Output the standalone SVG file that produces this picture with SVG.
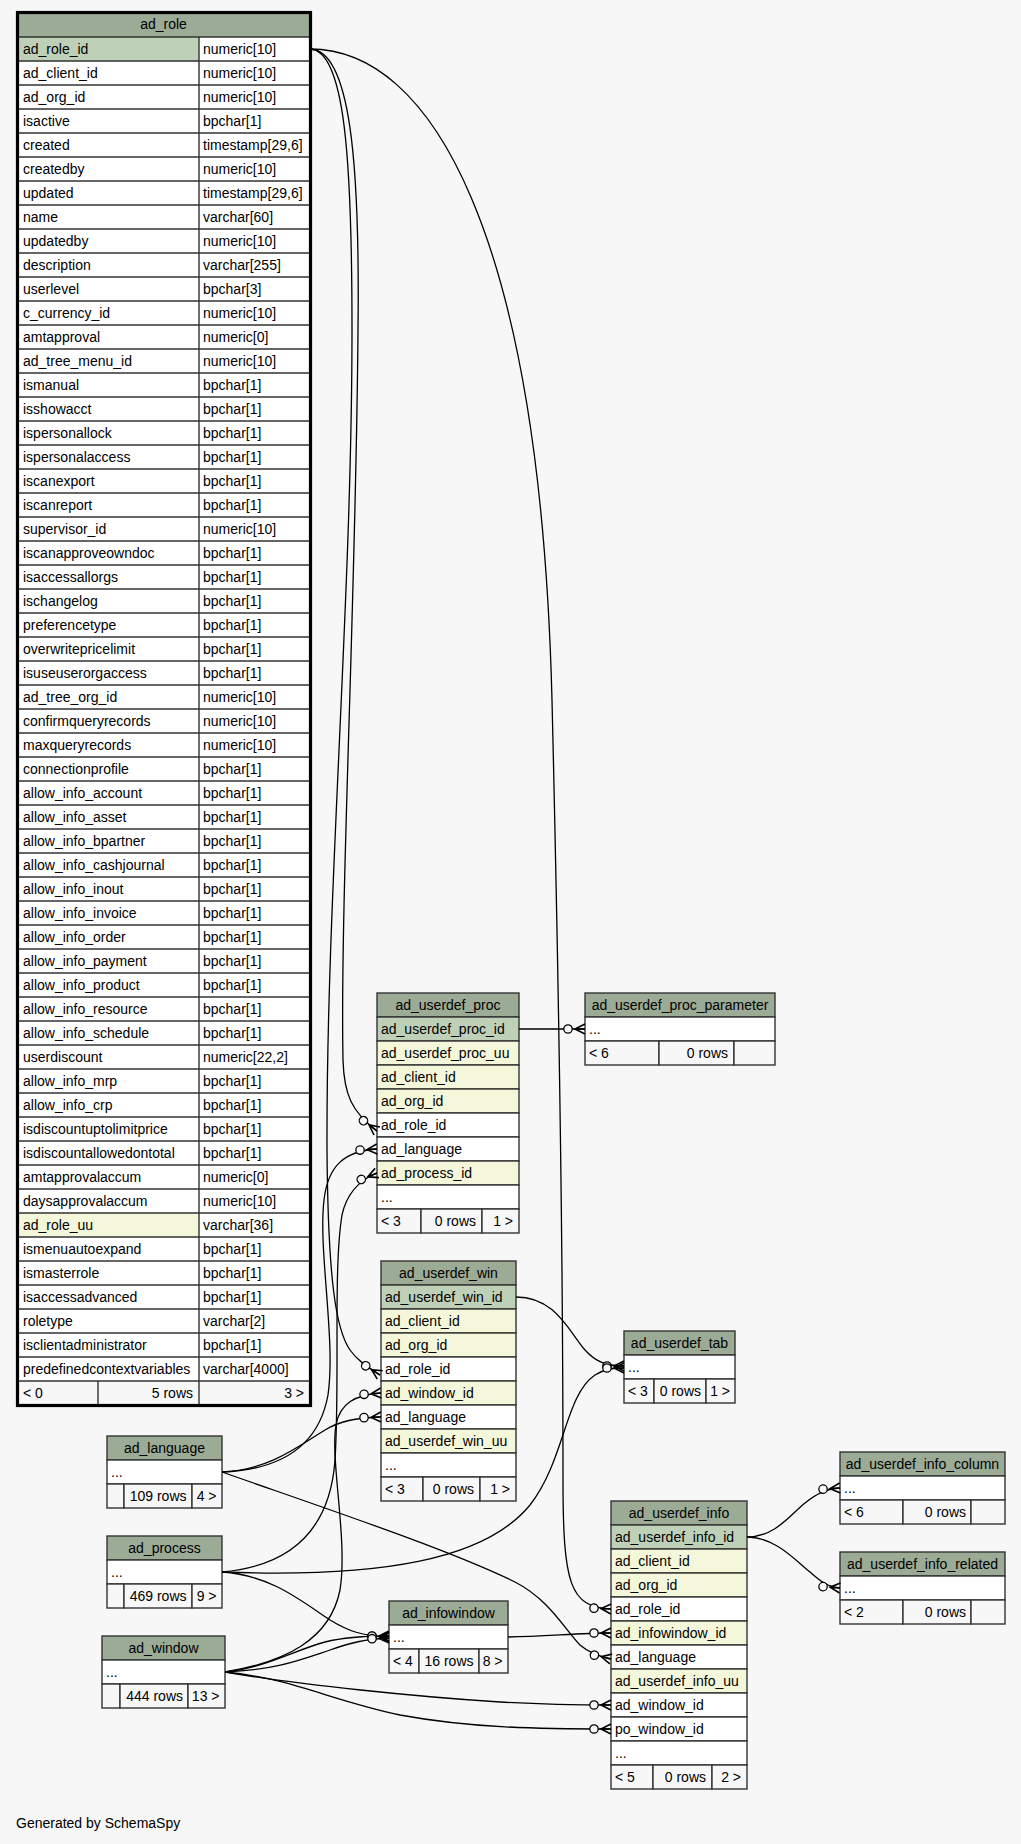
<svg xmlns="http://www.w3.org/2000/svg" width="1021" height="1844" viewBox="0 0 1021 1844">
<style>
text{font-family:"Liberation Sans",Arial,Helvetica,sans-serif;font-size:14px;fill:#000}
.m{text-anchor:middle}
.r{text-anchor:end}
.hd{fill:#9bab96;stroke:#333;stroke-width:1.4}
.pk{fill:#bed1b8;stroke:#333;stroke-width:1.4}
.ix{fill:#f4f7da;stroke:#333;stroke-width:1.4}
.w{fill:#fff;stroke:#333;stroke-width:1.4}
.ft{fill:#f7f7f7;stroke:#333;stroke-width:1.4}
.ln{fill:none;stroke:#333;stroke-width:1.4}
.e{fill:none;stroke:#000;stroke-width:1.3}
.ec{fill:none;stroke:#000;stroke-width:1.3;marker-end:url(#crow)}
</style>
<defs>
<marker id="crow" markerUnits="userSpaceOnUse" viewBox="0 0 24 16" markerWidth="24" markerHeight="16" refX="20" refY="8" orient="auto" overflow="visible">
<circle cx="3" cy="8" r="4.2" fill="#f7f7f7" stroke="#000" stroke-width="1.3"/>
<path d="M20,3 L10,8 L20,13 M10,8 H20" fill="none" stroke="#000" stroke-width="1.6"/>
</marker>
</defs>
<rect x="0" y="0" width="1021" height="1844" fill="#f7f7f7"/>

<g id="ad_role">
<rect x="18" y="12" width="292" height="25" fill="#9bab96"/>
<rect x="18" y="37" width="292" height="1344" fill="#fff"/>
<rect x="18" y="37" width="181" height="24" fill="#bed1b8"/>
<rect x="18" y="1213" width="181" height="24" fill="#f4f7da"/>
<rect x="18" y="1381" width="292" height="24" fill="#f7f7f7"/>
<path class="ln" d="M18,37H310M18,61H310M18,85H310M18,109H310M18,133H310M18,157H310M18,181H310M18,205H310M18,229H310M18,253H310M18,277H310M18,301H310M18,325H310M18,349H310M18,373H310M18,397H310M18,421H310M18,445H310M18,469H310M18,493H310M18,517H310M18,541H310M18,565H310M18,589H310M18,613H310M18,637H310M18,661H310M18,685H310M18,709H310M18,733H310M18,757H310M18,781H310M18,805H310M18,829H310M18,853H310M18,877H310M18,901H310M18,925H310M18,949H310M18,973H310M18,997H310M18,1021H310M18,1045H310M18,1069H310M18,1093H310M18,1117H310M18,1141H310M18,1165H310M18,1189H310M18,1213H310M18,1237H310M18,1261H310M18,1285H310M18,1309H310M18,1333H310M18,1357H310M18,1381H310M199,37V1405M98,1381V1405"/>
<rect x="17.5" y="12.5" width="293" height="1393" fill="none" stroke="#000" stroke-width="3.2"/>
<text class="m" x="163.5" y="29">ad_role</text>
<text x="23" y="53.5">ad_role_id</text><text x="203" y="53.5">numeric[10]</text>
<text x="23" y="77.5">ad_client_id</text><text x="203" y="77.5">numeric[10]</text>
<text x="23" y="101.5">ad_org_id</text><text x="203" y="101.5">numeric[10]</text>
<text x="23" y="125.5">isactive</text><text x="203" y="125.5">bpchar[1]</text>
<text x="23" y="149.5">created</text><text x="203" y="149.5">timestamp[29,6]</text>
<text x="23" y="173.5">createdby</text><text x="203" y="173.5">numeric[10]</text>
<text x="23" y="197.5">updated</text><text x="203" y="197.5">timestamp[29,6]</text>
<text x="23" y="221.5">name</text><text x="203" y="221.5">varchar[60]</text>
<text x="23" y="245.5">updatedby</text><text x="203" y="245.5">numeric[10]</text>
<text x="23" y="269.5">description</text><text x="203" y="269.5">varchar[255]</text>
<text x="23" y="293.5">userlevel</text><text x="203" y="293.5">bpchar[3]</text>
<text x="23" y="317.5">c_currency_id</text><text x="203" y="317.5">numeric[10]</text>
<text x="23" y="341.5">amtapproval</text><text x="203" y="341.5">numeric[0]</text>
<text x="23" y="365.5">ad_tree_menu_id</text><text x="203" y="365.5">numeric[10]</text>
<text x="23" y="389.5">ismanual</text><text x="203" y="389.5">bpchar[1]</text>
<text x="23" y="413.5">isshowacct</text><text x="203" y="413.5">bpchar[1]</text>
<text x="23" y="437.5">ispersonallock</text><text x="203" y="437.5">bpchar[1]</text>
<text x="23" y="461.5">ispersonalaccess</text><text x="203" y="461.5">bpchar[1]</text>
<text x="23" y="485.5">iscanexport</text><text x="203" y="485.5">bpchar[1]</text>
<text x="23" y="509.5">iscanreport</text><text x="203" y="509.5">bpchar[1]</text>
<text x="23" y="533.5">supervisor_id</text><text x="203" y="533.5">numeric[10]</text>
<text x="23" y="557.5">iscanapproveowndoc</text><text x="203" y="557.5">bpchar[1]</text>
<text x="23" y="581.5">isaccessallorgs</text><text x="203" y="581.5">bpchar[1]</text>
<text x="23" y="605.5">ischangelog</text><text x="203" y="605.5">bpchar[1]</text>
<text x="23" y="629.5">preferencetype</text><text x="203" y="629.5">bpchar[1]</text>
<text x="23" y="653.5">overwritepricelimit</text><text x="203" y="653.5">bpchar[1]</text>
<text x="23" y="677.5">isuseuserorgaccess</text><text x="203" y="677.5">bpchar[1]</text>
<text x="23" y="701.5">ad_tree_org_id</text><text x="203" y="701.5">numeric[10]</text>
<text x="23" y="725.5">confirmqueryrecords</text><text x="203" y="725.5">numeric[10]</text>
<text x="23" y="749.5">maxqueryrecords</text><text x="203" y="749.5">numeric[10]</text>
<text x="23" y="773.5">connectionprofile</text><text x="203" y="773.5">bpchar[1]</text>
<text x="23" y="797.5">allow_info_account</text><text x="203" y="797.5">bpchar[1]</text>
<text x="23" y="821.5">allow_info_asset</text><text x="203" y="821.5">bpchar[1]</text>
<text x="23" y="845.5">allow_info_bpartner</text><text x="203" y="845.5">bpchar[1]</text>
<text x="23" y="869.5">allow_info_cashjournal</text><text x="203" y="869.5">bpchar[1]</text>
<text x="23" y="893.5">allow_info_inout</text><text x="203" y="893.5">bpchar[1]</text>
<text x="23" y="917.5">allow_info_invoice</text><text x="203" y="917.5">bpchar[1]</text>
<text x="23" y="941.5">allow_info_order</text><text x="203" y="941.5">bpchar[1]</text>
<text x="23" y="965.5">allow_info_payment</text><text x="203" y="965.5">bpchar[1]</text>
<text x="23" y="989.5">allow_info_product</text><text x="203" y="989.5">bpchar[1]</text>
<text x="23" y="1013.5">allow_info_resource</text><text x="203" y="1013.5">bpchar[1]</text>
<text x="23" y="1037.5">allow_info_schedule</text><text x="203" y="1037.5">bpchar[1]</text>
<text x="23" y="1061.5">userdiscount</text><text x="203" y="1061.5">numeric[22,2]</text>
<text x="23" y="1085.5">allow_info_mrp</text><text x="203" y="1085.5">bpchar[1]</text>
<text x="23" y="1109.5">allow_info_crp</text><text x="203" y="1109.5">bpchar[1]</text>
<text x="23" y="1133.5">isdiscountuptolimitprice</text><text x="203" y="1133.5">bpchar[1]</text>
<text x="23" y="1157.5">isdiscountallowedontotal</text><text x="203" y="1157.5">bpchar[1]</text>
<text x="23" y="1181.5">amtapprovalaccum</text><text x="203" y="1181.5">numeric[0]</text>
<text x="23" y="1205.5">daysapprovalaccum</text><text x="203" y="1205.5">numeric[10]</text>
<text x="23" y="1229.5">ad_role_uu</text><text x="203" y="1229.5">varchar[36]</text>
<text x="23" y="1253.5">ismenuautoexpand</text><text x="203" y="1253.5">bpchar[1]</text>
<text x="23" y="1277.5">ismasterrole</text><text x="203" y="1277.5">bpchar[1]</text>
<text x="23" y="1301.5">isaccessadvanced</text><text x="203" y="1301.5">bpchar[1]</text>
<text x="23" y="1325.5">roletype</text><text x="203" y="1325.5">varchar[2]</text>
<text x="23" y="1349.5">isclientadministrator</text><text x="203" y="1349.5">bpchar[1]</text>
<text x="23" y="1373.5">predefinedcontextvariables</text><text x="203" y="1373.5">varchar[4000]</text>
<text x="23" y="1397.5">&lt; 0</text><text class="r" x="193" y="1397.5">5 rows</text><text class="r" x="304" y="1397.5">3 &gt;</text>
</g>

<g id="ad_userdef_proc">
<rect class="hd" x="377" y="993" width="142" height="24"/>
<rect class="pk" x="377" y="1017" width="142" height="24"/>
<rect class="ix" x="377" y="1041" width="142" height="24"/>
<rect class="ix" x="377" y="1065" width="142" height="24"/>
<rect class="ix" x="377" y="1089" width="142" height="24"/>
<rect class="w" x="377" y="1113" width="142" height="24"/>
<rect class="w" x="377" y="1137" width="142" height="24"/>
<rect class="ix" x="377" y="1161" width="142" height="24"/>
<rect class="w" x="377" y="1185" width="142" height="24"/>
<rect class="ft" x="377" y="1209" width="44" height="24"/>
<rect class="ft" x="421" y="1209" width="61" height="24"/>
<rect class="ft" x="482" y="1209" width="37" height="24"/>
<text class="m" x="448" y="1009.5">ad_userdef_proc</text>
<text x="381" y="1033.5">ad_userdef_proc_id</text>
<text x="381" y="1057.5">ad_userdef_proc_uu</text>
<text x="381" y="1081.5">ad_client_id</text>
<text x="381" y="1105.5">ad_org_id</text>
<text x="381" y="1129.5">ad_role_id</text>
<text x="381" y="1153.5">ad_language</text>
<text x="381" y="1177.5">ad_process_id</text>
<text x="381" y="1201.5">...</text>
<text x="381" y="1225.5">&lt; 3</text><text class="r" x="476" y="1225.5">0 rows</text><text class="r" x="513" y="1225.5">1 &gt;</text>
</g>

<g id="ad_userdef_proc_parameter">
<rect class="hd" x="585" y="993" width="190" height="24"/>
<rect class="w" x="585" y="1017" width="190" height="24"/>
<rect class="ft" x="585" y="1041" width="74" height="24"/>
<rect class="ft" x="659" y="1041" width="75" height="24"/>
<rect class="ft" x="734" y="1041" width="41" height="24"/>
<text class="m" x="680" y="1009.5">ad_userdef_proc_parameter</text>
<text x="589" y="1033.5">...</text>
<text x="589" y="1057.5">&lt; 6</text><text class="r" x="728" y="1057.5">0 rows</text>
</g>

<g id="ad_userdef_win">
<rect class="hd" x="381" y="1261" width="135" height="24"/>
<rect class="pk" x="381" y="1285" width="135" height="24"/>
<rect class="ix" x="381" y="1309" width="135" height="24"/>
<rect class="ix" x="381" y="1333" width="135" height="24"/>
<rect class="w" x="381" y="1357" width="135" height="24"/>
<rect class="ix" x="381" y="1381" width="135" height="24"/>
<rect class="w" x="381" y="1405" width="135" height="24"/>
<rect class="ix" x="381" y="1429" width="135" height="24"/>
<rect class="w" x="381" y="1453" width="135" height="24"/>
<rect class="ft" x="381" y="1477" width="42" height="24"/>
<rect class="ft" x="423" y="1477" width="57" height="24"/>
<rect class="ft" x="480" y="1477" width="36" height="24"/>
<text class="m" x="448.5" y="1277.5">ad_userdef_win</text>
<text x="385" y="1301.5">ad_userdef_win_id</text>
<text x="385" y="1325.5">ad_client_id</text>
<text x="385" y="1349.5">ad_org_id</text>
<text x="385" y="1373.5">ad_role_id</text>
<text x="385" y="1397.5">ad_window_id</text>
<text x="385" y="1421.5">ad_language</text>
<text x="385" y="1445.5">ad_userdef_win_uu</text>
<text x="385" y="1469.5">...</text>
<text x="385" y="1493.5">&lt; 3</text><text class="r" x="474" y="1493.5">0 rows</text><text class="r" x="510" y="1493.5">1 &gt;</text>
</g>

<g id="ad_userdef_tab">
<rect class="hd" x="624" y="1331" width="111" height="24"/>
<rect class="w" x="624" y="1355" width="111" height="24"/>
<rect class="ft" x="624" y="1379" width="30" height="24"/>
<rect class="ft" x="654" y="1379" width="52" height="24"/>
<rect class="ft" x="706" y="1379" width="29" height="24"/>
<text class="m" x="679.5" y="1347.5">ad_userdef_tab</text>
<text x="628" y="1371.5">...</text>
<text x="628" y="1395.5">&lt; 3</text><text class="r" x="701" y="1395.5">0 rows</text><text class="r" x="730" y="1395.5">1 &gt;</text>
</g>

<g id="ad_userdef_info_column">
<rect class="hd" x="840" y="1452" width="165" height="24"/>
<rect class="w" x="840" y="1476" width="165" height="24"/>
<rect class="ft" x="840" y="1500" width="63" height="24"/>
<rect class="ft" x="903" y="1500" width="68" height="24"/>
<rect class="ft" x="971" y="1500" width="34" height="24"/>
<text class="m" x="922.5" y="1468.5">ad_userdef_info_column</text>
<text x="844" y="1492.5">...</text>
<text x="844" y="1516.5">&lt; 6</text><text class="r" x="966" y="1516.5">0 rows</text>
</g>

<g id="ad_userdef_info_related">
<rect class="hd" x="840" y="1552" width="165" height="24"/>
<rect class="w" x="840" y="1576" width="165" height="24"/>
<rect class="ft" x="840" y="1600" width="63" height="24"/>
<rect class="ft" x="903" y="1600" width="68" height="24"/>
<rect class="ft" x="971" y="1600" width="34" height="24"/>
<text class="m" x="922.5" y="1568.5">ad_userdef_info_related</text>
<text x="844" y="1592.5">...</text>
<text x="844" y="1616.5">&lt; 2</text><text class="r" x="966" y="1616.5">0 rows</text>
</g>

<g id="ad_userdef_info">
<rect class="hd" x="611" y="1501" width="136" height="24"/>
<rect class="pk" x="611" y="1525" width="136" height="24"/>
<rect class="ix" x="611" y="1549" width="136" height="24"/>
<rect class="ix" x="611" y="1573" width="136" height="24"/>
<rect class="w" x="611" y="1597" width="136" height="24"/>
<rect class="ix" x="611" y="1621" width="136" height="24"/>
<rect class="w" x="611" y="1645" width="136" height="24"/>
<rect class="ix" x="611" y="1669" width="136" height="24"/>
<rect class="w" x="611" y="1693" width="136" height="24"/>
<rect class="w" x="611" y="1717" width="136" height="24"/>
<rect class="w" x="611" y="1741" width="136" height="24"/>
<rect class="ft" x="611" y="1765" width="42" height="24"/>
<rect class="ft" x="653" y="1765" width="59" height="24"/>
<rect class="ft" x="712" y="1765" width="35" height="24"/>
<text class="m" x="679" y="1517.5">ad_userdef_info</text>
<text x="615" y="1541.5">ad_userdef_info_id</text>
<text x="615" y="1565.5">ad_client_id</text>
<text x="615" y="1589.5">ad_org_id</text>
<text x="615" y="1613.5">ad_role_id</text>
<text x="615" y="1637.5">ad_infowindow_id</text>
<text x="615" y="1661.5">ad_language</text>
<text x="615" y="1685.5">ad_userdef_info_uu</text>
<text x="615" y="1709.5">ad_window_id</text>
<text x="615" y="1733.5">po_window_id</text>
<text x="615" y="1757.5">...</text>
<text x="615" y="1781.5">&lt; 5</text><text class="r" x="706" y="1781.5">0 rows</text><text class="r" x="741" y="1781.5">2 &gt;</text>
</g>

<g id="ad_language">
<rect class="hd" x="107" y="1436" width="115" height="24"/>
<rect class="w" x="107" y="1460" width="115" height="24"/>
<rect class="ft" x="107" y="1484" width="17" height="24"/>
<rect class="ft" x="124" y="1484" width="68" height="24"/>
<rect class="ft" x="192" y="1484" width="30" height="24"/>
<text class="m" x="164.5" y="1452.5">ad_language</text>
<text x="111" y="1476.5">...</text>
<text class="r" x="186.5" y="1500.5">109 rows</text><text class="r" x="216.5" y="1500.5">4 &gt;</text>
</g>

<g id="ad_process">
<rect class="hd" x="107" y="1536" width="115" height="24"/>
<rect class="w" x="107" y="1560" width="115" height="24"/>
<rect class="ft" x="107" y="1584" width="17" height="24"/>
<rect class="ft" x="124" y="1584" width="68" height="24"/>
<rect class="ft" x="192" y="1584" width="30" height="24"/>
<text class="m" x="164.5" y="1552.5">ad_process</text>
<text x="111" y="1576.5">...</text>
<text class="r" x="186.5" y="1600.5">469 rows</text><text class="r" x="216.5" y="1600.5">9 &gt;</text>
</g>

<g id="ad_window">
<rect class="hd" x="102" y="1636" width="123" height="24"/>
<rect class="w" x="102" y="1660" width="123" height="24"/>
<rect class="ft" x="102" y="1684" width="18" height="24"/>
<rect class="ft" x="120" y="1684" width="68" height="24"/>
<rect class="ft" x="188" y="1684" width="37" height="24"/>
<text class="m" x="163.5" y="1652.5">ad_window</text>
<text x="106" y="1676.5">...</text>
<text class="r" x="183" y="1700.5">444 rows</text><text class="r" x="219.5" y="1700.5">13 &gt;</text>
</g>

<g id="ad_infowindow">
<rect class="hd" x="389" y="1601" width="119" height="24"/>
<rect class="w" x="389" y="1625" width="119" height="24"/>
<rect class="ft" x="389" y="1649" width="30" height="24"/>
<rect class="ft" x="419" y="1649" width="60" height="24"/>
<rect class="ft" x="479" y="1649" width="29" height="24"/>
<text class="m" x="448.5" y="1617.5">ad_infowindow</text>
<text x="393" y="1641.5">...</text>
<text x="393" y="1665.5">&lt; 4</text><text class="r" x="473.5" y="1665.5">16 rows</text><text class="r" x="502.5" y="1665.5">8 &gt;</text>
</g>

<g id="connectors">
<path class="ec" d="M310,49 C350,50 360,160 358,330 C356,600 340,900 343,1060 C344,1095 352,1112 377,1131"/>
<path class="ec" d="M310,49 C345,50 352,160 352,330 C352,600 326,900 327,1150 C328,1280 336,1330 350,1350 C357,1360 366,1366 380,1375"/>
<path class="ec" d="M310,49 C430,49 540,230 552,700 C558,950 563,1250 563,1480 C563,1585 570,1607 611,1609"/>
<path class="ec" d="M519,1029 L585,1029"/>
<path class="ec" d="M516,1297 C555,1297 568,1330 585,1350 C595,1361 605,1366 624,1366"/>
<path class="ec" d="M222,1572 C380,1578 485,1560 530,1505 C565,1460 565,1395 595,1375 C605,1369 612,1368 624,1368"/>
<path class="ec" d="M222,1472 C275,1470 318,1450 328,1395 C336,1340 318,1250 324,1200 C328,1165 345,1151 377,1149"/>
<path class="ec" d="M222,1572 C290,1566 330,1530 335,1460 C340,1380 333,1270 342,1215 C347,1192 360,1180 377,1173"/>
<path class="ec" d="M222,1472 C270,1470 300,1445 325,1430 C340,1421 355,1418 381,1417"/>
<path class="ec" d="M222,1472 C330,1510 450,1550 515,1582 C550,1600 565,1630 580,1645 C588,1652 598,1656 611,1659"/>
<path class="ec" d="M222,1572 C270,1575 300,1600 330,1620 C348,1631 362,1636 389,1637"/>
<path class="ec" d="M225,1672 C265,1668 295,1650 325,1642 C345,1637 365,1636 389,1636"/>
<path class="ec" d="M225,1672 C275,1670 300,1660 330,1650 C350,1643 365,1639 389,1638"/>
<path class="ec" d="M225,1672 C285,1662 330,1640 340,1590 C348,1540 330,1460 336,1425 C340,1403 355,1395 381,1393"/>
<path class="ec" d="M225,1672 C300,1685 420,1697 500,1702 C550,1705 580,1705 611,1705"/>
<path class="ec" d="M225,1672 C290,1678 330,1700 400,1715 C470,1728 540,1729 611,1729"/>
<path class="ec" d="M508,1637 C550,1636 580,1633 611,1633"/>
<path class="ec" d="M747,1537 C775,1537 790,1515 805,1503 C815,1495 825,1489 840,1488"/>
<path class="ec" d="M747,1537 C775,1537 795,1560 810,1572 C820,1581 828,1587 840,1588"/>
</g>

<text x="16" y="1828">Generated by SchemaSpy</text>
</svg>
